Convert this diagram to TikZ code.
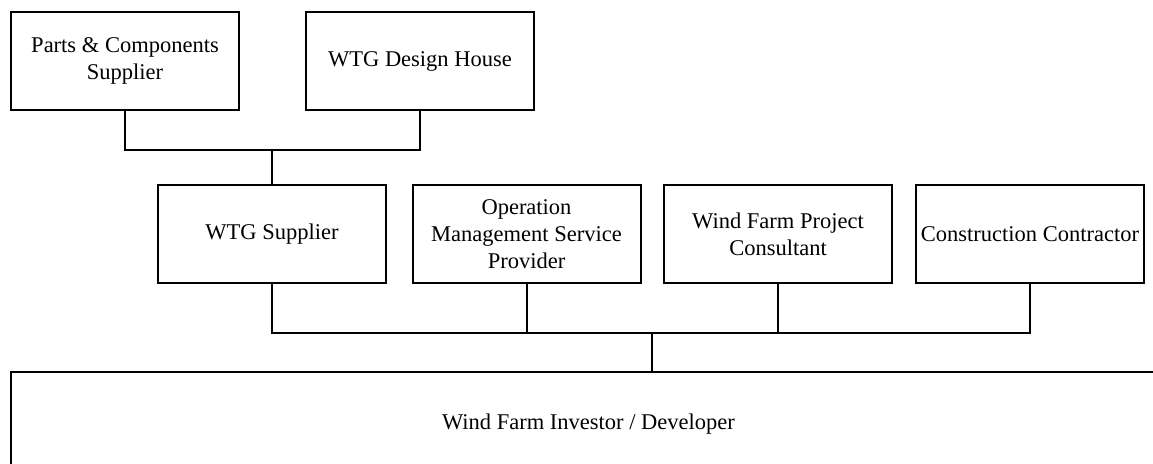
\documentclass[tikz,border=0pt]{standalone}
\usepackage{fontspec}
\setmainfont{Liberation Serif}
\usepackage{tikz}

\begin{document}
\begin{tikzpicture}[x=0.5pt,y=-0.5pt,line width=1pt,
    party/.style = {draw,fill = white,align = center,minimum width = 114pt,
      minimum height = 49pt,inner sep = 0pt,
      font = \fontsize{11.25}{13.5}\selectfont}]
      \useasboundingbox (0,0) rectangle (1153,464);
      \node[party] (parts) at (125,61) {Parts \& Components\\Supplier};
      \node[party] (design) at (420,61) {WTG Design House};
      \node[party] (wtg) at (272,234.5) {WTG Supplier};
      \node[party] (oper) at (526.5,234.5) {Operation\\Management Service\\Provider};
      \node[party] (consult) at (778,234.5) {Wind Farm Project\\Consultant};
      \node[party] (contr) at (1030,234.5) {Construction Contractor};
      \node[party,minimum width = 577.5pt,minimum height = 52pt] (investor) at (588.5,424)
        {Wind Farm Investor / Developer};
      \coordinate (top bus) at (272,150);
      \coordinate (bus) at (652,333);
      \draw (parts.south) |- (top bus) -| (design.south);
      \draw (top bus) -- (wtg.north);
      \draw (wtg.south) |- (bus) -| (contr.south);
      \draw (oper.south) -- (oper.south |- bus);
      \draw (consult.south) -- (consult.south |- bus);
      \draw (bus) -- (investor.north -| bus);
      \end{tikzpicture}
\end{document}
